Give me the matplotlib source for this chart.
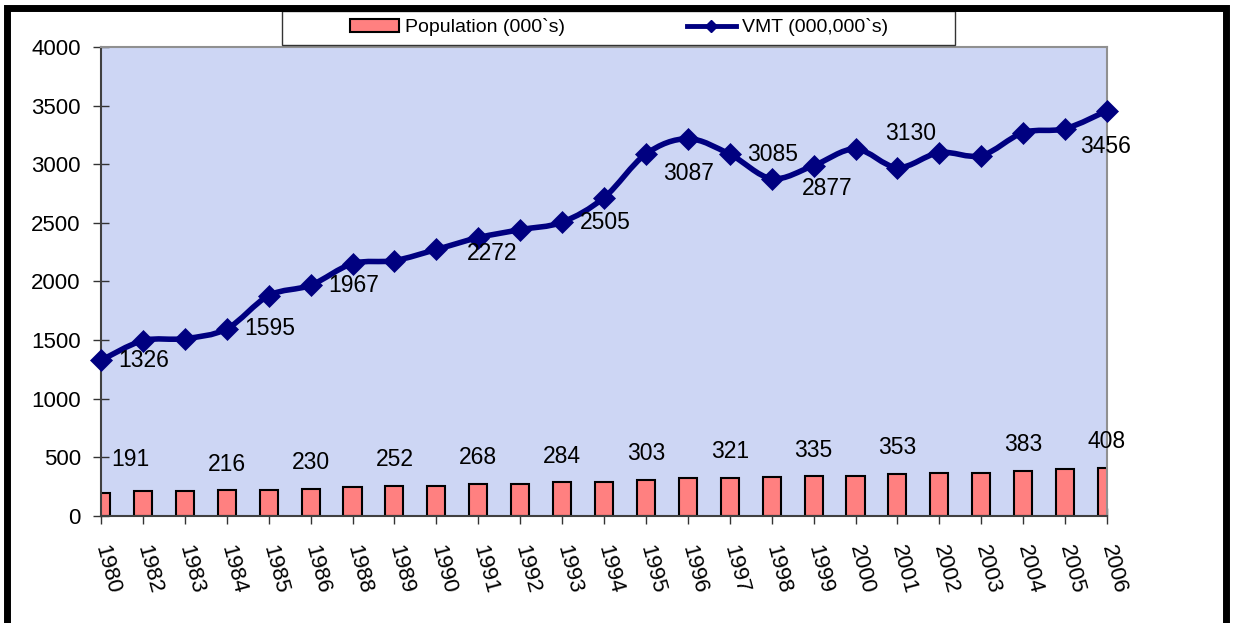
import matplotlib
matplotlib.use("Agg")
import matplotlib.pyplot as plt
from matplotlib.patches import Rectangle, PathPatch
from matplotlib.lines import Line2D
from matplotlib.path import Path

plt.rcParams["font.family"] = ["Liberation Sans", "DejaVu Sans"]

years = ["1980", "1982", "1983", "1984", "1985", "1986", "1988", "1989", "1990",
         "1991", "1992", "1993", "1994", "1995", "1996", "1997", "1998", "1999",
         "2000", "2001", "2002", "2003", "2004", "2005", "2006"]
population = [191, 210, 207, 216, 220, 230, 242, 252, 252, 268, 268, 284, 286,
              303, 319, 321, 333, 335, 335, 353, 367, 367, 383, 399, 408]
vmt = [1326, 1494, 1511, 1595, 1878, 1967, 2151, 2177, 2272, 2373, 2441, 2505,
       2714, 3087, 3217, 3085, 2877, 2988, 3130, 2971, 3099, 3073, 3269, 3303, 3456]
y_ticks = [0, 500, 1000, 1500, 2000, 2500, 3000, 3500, 4000]

# which points carry a data label
pop_labelled = [0, 3, 5, 7, 9, 11, 13, 15, 17, 19, 22, 24]
vmt_labelled = [0, 3, 5, 8, 11, 13, 15, 16, 18, 24]

# label offsets in points (layout only)
pop_offset = {0: (21, 24)}
vmt_offset = {8: (40, -3), 13: (31, -14), 16: (40, -7), 18: (40, 11), 24: (-1, -26)}

NAVY = "#000080"
SALMON = "#FF8080"


def smooth_path(xs, ys):
    # Excel-style smoothed line: bezier segments through every point
    pts = list(zip(xs, ys))
    verts = [pts[0]]
    codes = [Path.MOVETO]
    n = len(pts)
    for i in range(n - 1):
        p0 = pts[max(i - 1, 0)]
        p1 = pts[i]
        p2 = pts[i + 1]
        p3 = pts[min(i + 2, n - 1)]
        c1 = (p1[0] + (p2[0] - p0[0]) / 6, p1[1] + (p2[1] - p0[1]) / 6)
        c2 = (p2[0] - (p3[0] - p1[0]) / 6, p2[1] - (p3[1] - p1[1]) / 6)
        verts += [c1, c2, p2]
        codes += [Path.CURVE4] * 3
    return Path(verts, codes)


W, H = 1233, 623
fig = plt.figure(figsize=(W / 100, H / 100), dpi=100)
fig.patch.set_facecolor("white")

ax = fig.add_axes([101 / W, 1 - 515.7 / H, (1107 - 101) / W, (515.7 - 47) / H])
ax.set_facecolor("#CDD6F4")

x = list(range(len(years)))
ax.bar(x, population, width=0.43, color=SALMON, edgecolor="black",
       linewidth=1.5, zorder=2)
ax.add_patch(PathPatch(smooth_path(x, vmt), facecolor="none", edgecolor=NAVY,
                       linewidth=4, capstyle="round", joinstyle="round",
                       zorder=3, clip_on=False))
ax.plot(x, vmt, linestyle="none", color=NAVY, marker="D", markersize=11.5,
        markeredgewidth=0.5, zorder=3, clip_on=False)

for i in pop_labelled:
    dx, dy = pop_offset.get(i, (0, 19))
    ax.annotate(str(population[i]), (x[i], population[i]), xytext=(dx, dy),
                textcoords="offset points", ha="center", va="center",
                fontsize=16.5, zorder=4, annotation_clip=False)

for i in vmt_labelled:
    dx, dy = vmt_offset.get(i, (31, 0))
    ax.annotate(str(vmt[i]), (x[i], vmt[i]), xytext=(dx, dy),
                textcoords="offset points", ha="center", va="center",
                fontsize=16.5, zorder=4, annotation_clip=False)

ax.set_xlim(0, len(years) - 1)
ax.set_ylim(0, 4000)
ax.set_yticks(y_ticks)
ax.set_xticks(x)
ax.set_xticklabels(years)
ax.tick_params(axis="both", direction="inout", length=11, width=1,
               color="#333333", labelsize=16)
ax.tick_params(axis="y", pad=9)
ax.tick_params(axis="x", pad=16)
plt.setp(ax.get_xticklabels(), rotation=-75, ha="left", va="center",
         rotation_mode="anchor")

for side in ("left", "bottom"):
    ax.spines[side].set_color("#404040")
    ax.spines[side].set_linewidth(1.5)
for side in ("top", "right"):
    ax.spines[side].set_color("#909090")
    ax.spines[side].set_linewidth(1.5)

# legend box above the plot
fig.patches.append(Rectangle((282 / W, 1 - 45 / H), (955 - 282) / W, 34 / H,
                             transform=fig.transFigure, facecolor="white",
                             edgecolor="#333333", linewidth=1, zorder=5))
handles = [
    Rectangle((0, 0), 1, 1, facecolor=SALMON, edgecolor="black", linewidth=1.5),
    Line2D([], [], color=NAVY, linewidth=3.5, marker="D", markersize=6),
]
fig.legend(handles, ["Population (000`s)", "VMT (000,000`s)"], loc="center",
           bbox_to_anchor=(619 / W, 1 - 27.5 / H), ncol=2, frameon=False,
           fontsize=14, handlelength=2.5, handleheight=0.6,
           handletextpad=0.3, columnspacing=6.3, borderpad=0)

# thick outer frame
fig.patches.append(Rectangle((6.5 / W, -0.05), (1225.5 - 6.5) / W, 1.05 - 8 / H,
                             transform=fig.transFigure, fill=False,
                             edgecolor="black", linewidth=5, zorder=6))

fig.savefig("out.png", dpi=100)
